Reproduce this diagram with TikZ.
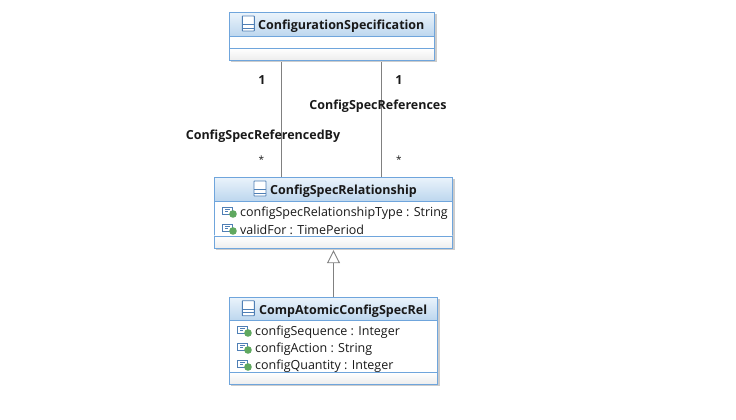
\documentclass[tikz,border=0pt]{standalone}
\usepackage{fontspec}
\setmainfont{Open Sans}
\usetikzlibrary{positioning, arrows.meta, calc}
\definecolor{umlBorder}{HTML}{6FA5DC}
\definecolor{umlTop}{HTML}{EAF3FB}
\definecolor{umlBottom}{HTML}{BCD6EE}
\definecolor{umlLine}{HTML}{808080}
\definecolor{umlIcon}{HTML}{4F7FB5}
\definecolor{umlGreen}{HTML}{5FA85F}
\tikzstyle{boxShadow} = [rectangle, anchor=north west, inner sep=0pt, fill=black!20, line width=0.9pt, draw=black!20]
\tikzstyle{boxClass} = [rectangle, anchor=north west, inner sep=0pt, draw=umlBorder, fill=white, line width=0.9pt]
\tikzstyle{boxHeader} = [rectangle, anchor=north west, inner sep=0pt, draw=umlBorder, line width=0.9pt, top color=umlTop, bottom color=umlBottom]
\tikzstyle{boxFoot} = [rectangle, anchor=north west, inner sep=0pt, draw=umlBorder, line width=0.9pt, top color=white, bottom color=black!7]
\tikzstyle{titleText} = [font=\fontsize{12.5}{15}\selectfont\bfseries, text=black!90, inner sep=0pt]
\tikzstyle{attrText} = [font=\fontsize{12.5}{15}\selectfont, text=black!90, inner sep=0pt, anchor=west]
\tikzstyle{labelText} = [font=\fontsize{12.5}{15}\selectfont\bfseries, text=black!90, inner sep=0pt]
\tikzstyle{assoc} = [draw=umlLine, line width=0.9pt]
\tikzstyle{inherit} = [draw=umlLine, line width=0.9pt, -{Triangle[open, length=13pt, width=13pt, fill=white]}]
\tikzset{
  classicon/.pic={
    \draw[umlIcon, line width=0.9pt, fill=white, rounded corners=0.5pt] (-6,-7.5) rectangle (6,7.5);
    \draw[umlIcon, line width=0.9pt] (-6,0.8) -- (6,0.8) (-6,4.5) -- (6,4.5);
  },
  attricon/.pic={
    \draw[umlIcon, line width=1pt, fill=white] (-6.5,-5) rectangle (3,2.5);
    \draw[umlIcon, line width=0.8pt] (-4,-2.5) -- (1,-2.5) (-4,-0.3) -- (-1,-0.3);
    \fill[umlGreen] (4,2) circle (3.8);
  }
}

\begin{document}
\begin{tikzpicture}[x=1pt, y=-1pt]
\useasboundingbox (0,0) rectangle (736,420);

% top class
\node (confspecShadow) [boxShadow, minimum width=205pt, minimum height=47.5pt] at (230.5,13.7) {};
\node (confspec) [boxClass, minimum width=205pt, minimum height=47.5pt] at (229,12.2) {};
\node (confspecHead) [boxHeader, minimum width=205pt, minimum height=24pt] at (229,12.2) {};
\node (confspecFoot) [boxFoot, minimum width=205pt, minimum height=12pt] at (229,47.8) {};
\pic at (248.3,23.5) {classicon};
\node (confspecTitle) [titleText, anchor=west] at (258,26) {ConfigurationSpecification};

% middle class
\node (relationShadow) [boxShadow, minimum width=238pt, minimum height=70.8pt] at (215.5,178.5) {};
\node (relation) [boxClass, minimum width=238pt, minimum height=70.8pt] at (214,177) {};
\node (relationHead) [boxHeader, minimum width=238pt, minimum height=24pt] at (214,177) {};
\node (relationFoot) [boxFoot, minimum width=238pt, minimum height=12.3pt] at (214,235.5) {};
\pic at (260,188.5) {classicon};
\node (relationTitle) [titleText, anchor=west] at (270,191) {ConfigSpecRelationship};
\pic at (229,212) {attricon};
\node (relationType) [attrText] at (240,213) {configSpecRelationshipType : String};
\pic at (229,229) {attricon};
\node (validFor) [attrText] at (240,230) {validFor : TimePeriod};

% bottom class
\node (compatomicShadow) [boxShadow, minimum width=208pt, minimum height=86.6pt] at (230.5,298.7) {};
\node (compatomic) [boxClass, minimum width=208pt, minimum height=86.6pt] at (229,297.2) {};
\node (compatomicHead) [boxHeader, minimum width=208pt, minimum height=23pt] at (229,297.2) {};
\node (compatomicFoot) [boxFoot, minimum width=208pt, minimum height=12pt] at (229,371.8) {};
\pic at (248.3,308.2) {classicon};
\node (compatomicTitle) [titleText, anchor=west] at (259,311) {CompAtomicConfigSpecRel};
\pic at (244,331) {attricon};
\node (configSequence) [attrText] at (255,332) {configSequence : Integer};
\pic at (244,348) {attricon};
\node (configAction) [attrText] at (255,349) {configAction : String};
\pic at (244,365) {attricon};
\node (configQuantity) [attrText] at (255,366) {configQuantity : Integer};

% connectors
\coordinate (byLine) at (281.5,0);
\coordinate (refLine) at (381.5,0);
\coordinate (inhLine) at (333.5,0);
\draw [assoc] (byLine |- confspecShadow.south) -- (byLine |- relation.north);
\draw [assoc] (refLine |- confspecShadow.south) -- (refLine |- relation.north);
\draw [inherit] (inhLine |- compatomic.north) -- (inhLine |- relationShadow.south);

% labels
\node (byOne) [labelText] at (262,80) {1};
\node (refOne) [labelText] at (399,80) {1};
\node (refName) [labelText] at (378,106.5) {ConfigSpecReferences};
\node (byName) [labelText] at (263,136.5) {ConfigSpecReferencedBy};
\node (byMany) [labelText, font=\fontsize{10}{12}\selectfont] at (261.5,160) {*};
\node (refMany) [labelText, font=\fontsize{10}{12}\selectfont] at (399,160) {*};

\end{tikzpicture}
\end{document}
